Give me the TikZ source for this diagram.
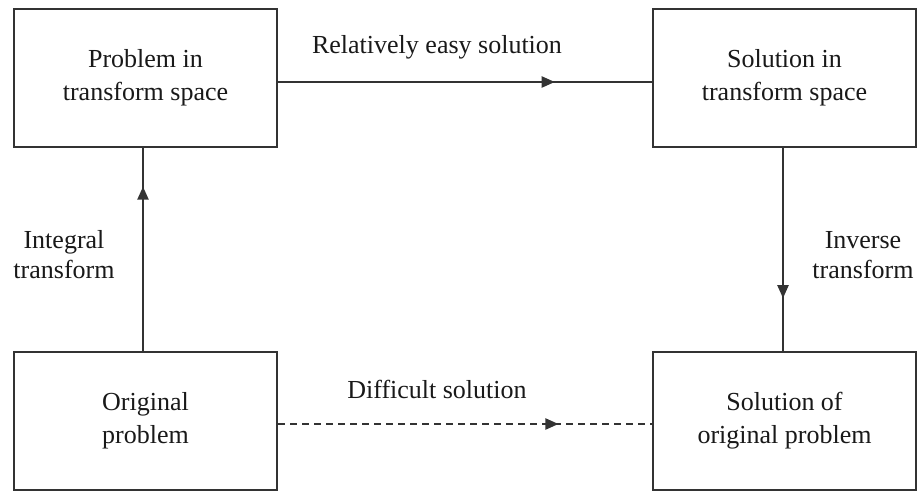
\documentclass[tikz,border=0pt]{standalone}
\usepackage{fontspec}
\setmainfont{Liberation Serif}
\usetikzlibrary{arrows.meta,decorations.markings}
\tikzset{
  line/.style={draw=black!80, line width=2.1pt},
  box/.style={line, fill=white, minimum width=263pt, minimum height=138pt, inner sep=0pt,
    align=center, font=\fontsize{26}{33}\selectfont, text=black!90},
  lbl/.style={align=center, font=\fontsize{26}{30}\selectfont, text=black!90},
  midarrow/.style={postaction={decorate, decoration={markings,
    mark=at position #1 with {\arrow{Triangle[length=13pt,width=11pt]}}}}}
}
\begin{document}
\begin{tikzpicture}[x=1pt,y=-1pt]
\useasboundingbox (0,0) rectangle (917,491);
\node[box] (pts) at (145.5,78) {Problem in\\transform space};
\node[box] (sts) at (784.5,78) {Solution in\\transform space};
\node[box] (op) at (145.5,421) {Original\\problem};
\node[box] (sop) at (784.5,421) {Solution of\\original problem};
\draw[line, midarrow=0.74] ([yshift=-4pt]pts.east) -- ([yshift=-4pt]sts.west);
\draw[line, dash pattern=on 7pt off 5pt, midarrow=0.75] ([yshift=-3pt]op.east) -- ([yshift=-3pt]sop.west);
\draw[line, midarrow=0.81] (op.north -| 143,0) -- (pts.south -| 143,0);
\draw[line, midarrow=0.74] (sts.south -| 783,0) -- (sop.north -| 783,0);
\node[lbl] (l1) at (437,47) {Relatively easy solution};
\node[lbl] (l2) at (437,389) {Difficult solution};
\node[lbl] (l3) at (64,255) {Integral\\transform};
\node[lbl] (l4) at (863,255) {Inverse\\transform};
\end{tikzpicture}
\end{document}
